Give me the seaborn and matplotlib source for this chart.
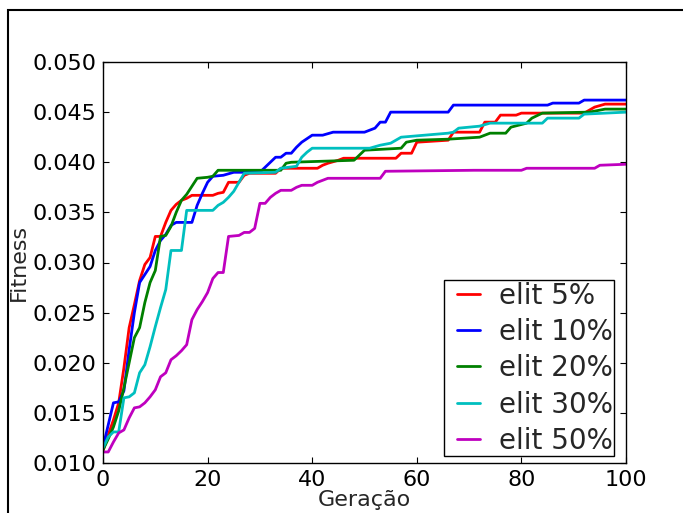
import matplotlib
matplotlib.use("Agg")
import matplotlib.pyplot as plt
import seaborn as sns
import pandas as pd
from matplotlib.patches import Rectangle
from matplotlib.lines import Line2D
from matplotlib.legend_handler import HandlerLine2D

labels = ["elit 5%", "elit 10%", "elit 20%", "elit 30%", "elit 50%"]
colors = ["#ff0000", "#0000ff", "#008000", "#00bfbf", "#bf00bf"]

gen_5 = [0, 1, 2, 3, 4, 5, 6, 7, 8, 9, 10, 11, 12, 13, 14, 15, 16, 17, 21, 22, 23, 24, 26, 27, 28, 33, 34, 41, 42, 43, 45, 46, 56, 57, 59, 60, 66, 67, 72, 73, 75, 76, 79, 80, 92, 94, 96, 100]
fit_5 = [0.0112, 0.0128, 0.0143, 0.0160, 0.0195, 0.0235, 0.0258, 0.0282, 0.0298, 0.0305, 0.0326, 0.0326, 0.0340, 0.0352, 0.0358, 0.0362, 0.0364, 0.0367, 0.0367, 0.0369, 0.0370, 0.0380, 0.0380, 0.0387, 0.0389, 0.0389, 0.0394, 0.0394, 0.0397, 0.0399, 0.0402, 0.0404, 0.0404, 0.0409, 0.0409, 0.0420, 0.0422, 0.0430, 0.0430, 0.0440, 0.0440, 0.0447, 0.0447, 0.0449, 0.0449, 0.0455, 0.0458, 0.0458]

gen_10 = [0, 2, 3, 4, 5, 6, 7, 8, 9, 10, 11, 12, 13, 14, 17, 18, 19, 20, 21, 23, 25, 30, 31, 32, 33, 34, 35, 36, 37, 38, 40, 42, 44, 50, 52, 53, 54, 55, 66, 67, 85, 86, 91, 92, 100]
fit_10 = [0.0116, 0.0160, 0.0161, 0.0172, 0.0213, 0.0250, 0.0280, 0.0288, 0.0296, 0.0312, 0.0322, 0.0328, 0.0337, 0.0340, 0.0340, 0.0357, 0.0369, 0.0380, 0.0386, 0.0387, 0.0390, 0.0390, 0.0395, 0.0400, 0.0405, 0.0405, 0.0409, 0.0409, 0.0415, 0.0420, 0.0427, 0.0427, 0.0430, 0.0430, 0.0434, 0.0440, 0.0440, 0.0450, 0.0450, 0.0457, 0.0457, 0.0459, 0.0459, 0.0462, 0.0462]

gen_20 = [0, 1, 2, 3, 4, 5, 6, 7, 8, 9, 10, 11, 12, 13, 14, 15, 16, 17, 18, 20, 21, 22, 34, 35, 36, 48, 50, 57, 58, 60, 66, 72, 74, 77, 78, 81, 82, 84, 93, 96, 100]
fit_20 = [0.0113, 0.0124, 0.0136, 0.0152, 0.0175, 0.0200, 0.0225, 0.0235, 0.0260, 0.0280, 0.0292, 0.0326, 0.0327, 0.0336, 0.0350, 0.0362, 0.0368, 0.0376, 0.0384, 0.0385, 0.0386, 0.0392, 0.0392, 0.0399, 0.0400, 0.0402, 0.0412, 0.0414, 0.0420, 0.0422, 0.0423, 0.0425, 0.0429, 0.0429, 0.0435, 0.0439, 0.0444, 0.0449, 0.0450, 0.0453, 0.0453]

gen_30 = [0, 1, 2, 3, 4, 5, 6, 7, 8, 9, 10, 11, 12, 13, 15, 16, 21, 22, 23, 24, 25, 26, 27, 33, 34, 37, 38, 39, 40, 51, 53, 55, 57, 66, 67, 68, 72, 74, 84, 85, 91, 92, 96, 100]
fit_30 = [0.0115, 0.0126, 0.0131, 0.0131, 0.0165, 0.0166, 0.0170, 0.0190, 0.0198, 0.0216, 0.0236, 0.0255, 0.0273, 0.0312, 0.0312, 0.0352, 0.0352, 0.0357, 0.0360, 0.0365, 0.0371, 0.0380, 0.0389, 0.0390, 0.0394, 0.0396, 0.0405, 0.0410, 0.0414, 0.0414, 0.0417, 0.0419, 0.0425, 0.0429, 0.0430, 0.0434, 0.0436, 0.0439, 0.0439, 0.0444, 0.0444, 0.0448, 0.0449, 0.0450]

gen_50 = [0, 1, 2, 3, 4, 5, 6, 7, 8, 9, 10, 11, 12, 13, 14, 15, 16, 17, 18, 19, 20, 21, 22, 23, 24, 26, 27, 28, 29, 30, 31, 32, 33, 34, 36, 37, 38, 40, 41, 42, 43, 53, 54, 71, 80, 81, 94, 95, 100]
fit_50 = [0.0111, 0.0111, 0.0121, 0.0130, 0.0133, 0.0145, 0.0155, 0.0156, 0.0160, 0.0166, 0.0173, 0.0186, 0.0190, 0.0203, 0.0207, 0.0212, 0.0218, 0.0243, 0.0253, 0.0261, 0.0270, 0.0284, 0.0290, 0.0290, 0.0326, 0.0327, 0.0330, 0.0330, 0.0334, 0.0359, 0.0359, 0.0365, 0.0369, 0.0372, 0.0372, 0.0375, 0.0377, 0.0377, 0.0380, 0.0382, 0.0384, 0.0384, 0.0391, 0.0392, 0.0392, 0.0394, 0.0394, 0.0397, 0.0398]

x_ticks = [0, 20, 40, 60, 80, 100]
y_ticks = [0.010, 0.015, 0.020, 0.025, 0.030, 0.035, 0.040, 0.045, 0.050]

gens = [gen_5, gen_10, gen_20, gen_30, gen_50]
fits = [fit_5, fit_10, fit_20, fit_30, fit_50]
frames = []
for lab, g, f in zip(labels, gens, fits):
    frames.append(pd.DataFrame({"Geração": g, "Fitness": f, "série": lab}))
df = pd.concat(frames, ignore_index=True)

sns.set_style("ticks")
plt.rcParams["font.family"] = ["DejaVu Sans"]

fig = plt.figure(figsize=(6.83, 5.13), dpi=100)
fig.patch.set_facecolor("white")
ax = fig.add_axes([103 / 683, 50 / 513, 523 / 683, 401 / 513])

sns.lineplot(data=df, x="Geração", y="Fitness", hue="série", hue_order=labels,
             palette=dict(zip(labels, colors)), linewidth=2, ax=ax,
             estimator=None, sort=False)

ax.set_xlim(0, 100)
ax.set_ylim(0.010, 0.050)
ax.set_xticks(x_ticks)
ax.set_yticks(y_ticks)
ax.yaxis.set_major_formatter(matplotlib.ticker.FormatStrFormatter("%.3f"))
ax.tick_params(direction="in", length=4, width=0.8, top=True, right=True,
               labelsize=16, pad=5, colors="black")
ax.set_xlabel("Geração", fontsize=16, labelpad=0)
ax.set_ylabel("Fitness", fontsize=16, labelpad=2)
for s in ax.spines.values():
    s.set_linewidth(1.0)
    s.set_color("black")

leg = ax.legend(loc="lower right", bbox_to_anchor=(0.977, 0.0175),
                fontsize=20, frameon=True, fancybox=False,
                edgecolor="black", framealpha=1, handlelength=1.26,
                handletextpad=0.68, borderpad=0.04, labelspacing=0.30,
                borderaxespad=0.0,
                handler_map={Line2D: HandlerLine2D(xpad=0.43)})
leg.get_frame().set_linewidth(1.0)
for h in leg.get_lines():
    h.set_linewidth(2)

fig.add_artist(Rectangle((8 / 683, -0.2), 1.2, 1.2 - 10 / 513 + 0.0,
                         transform=fig.transFigure, fill=False,
                         edgecolor="black", linewidth=1.5, clip_on=False))

fig.savefig("out.png", dpi=100, facecolor="white")
